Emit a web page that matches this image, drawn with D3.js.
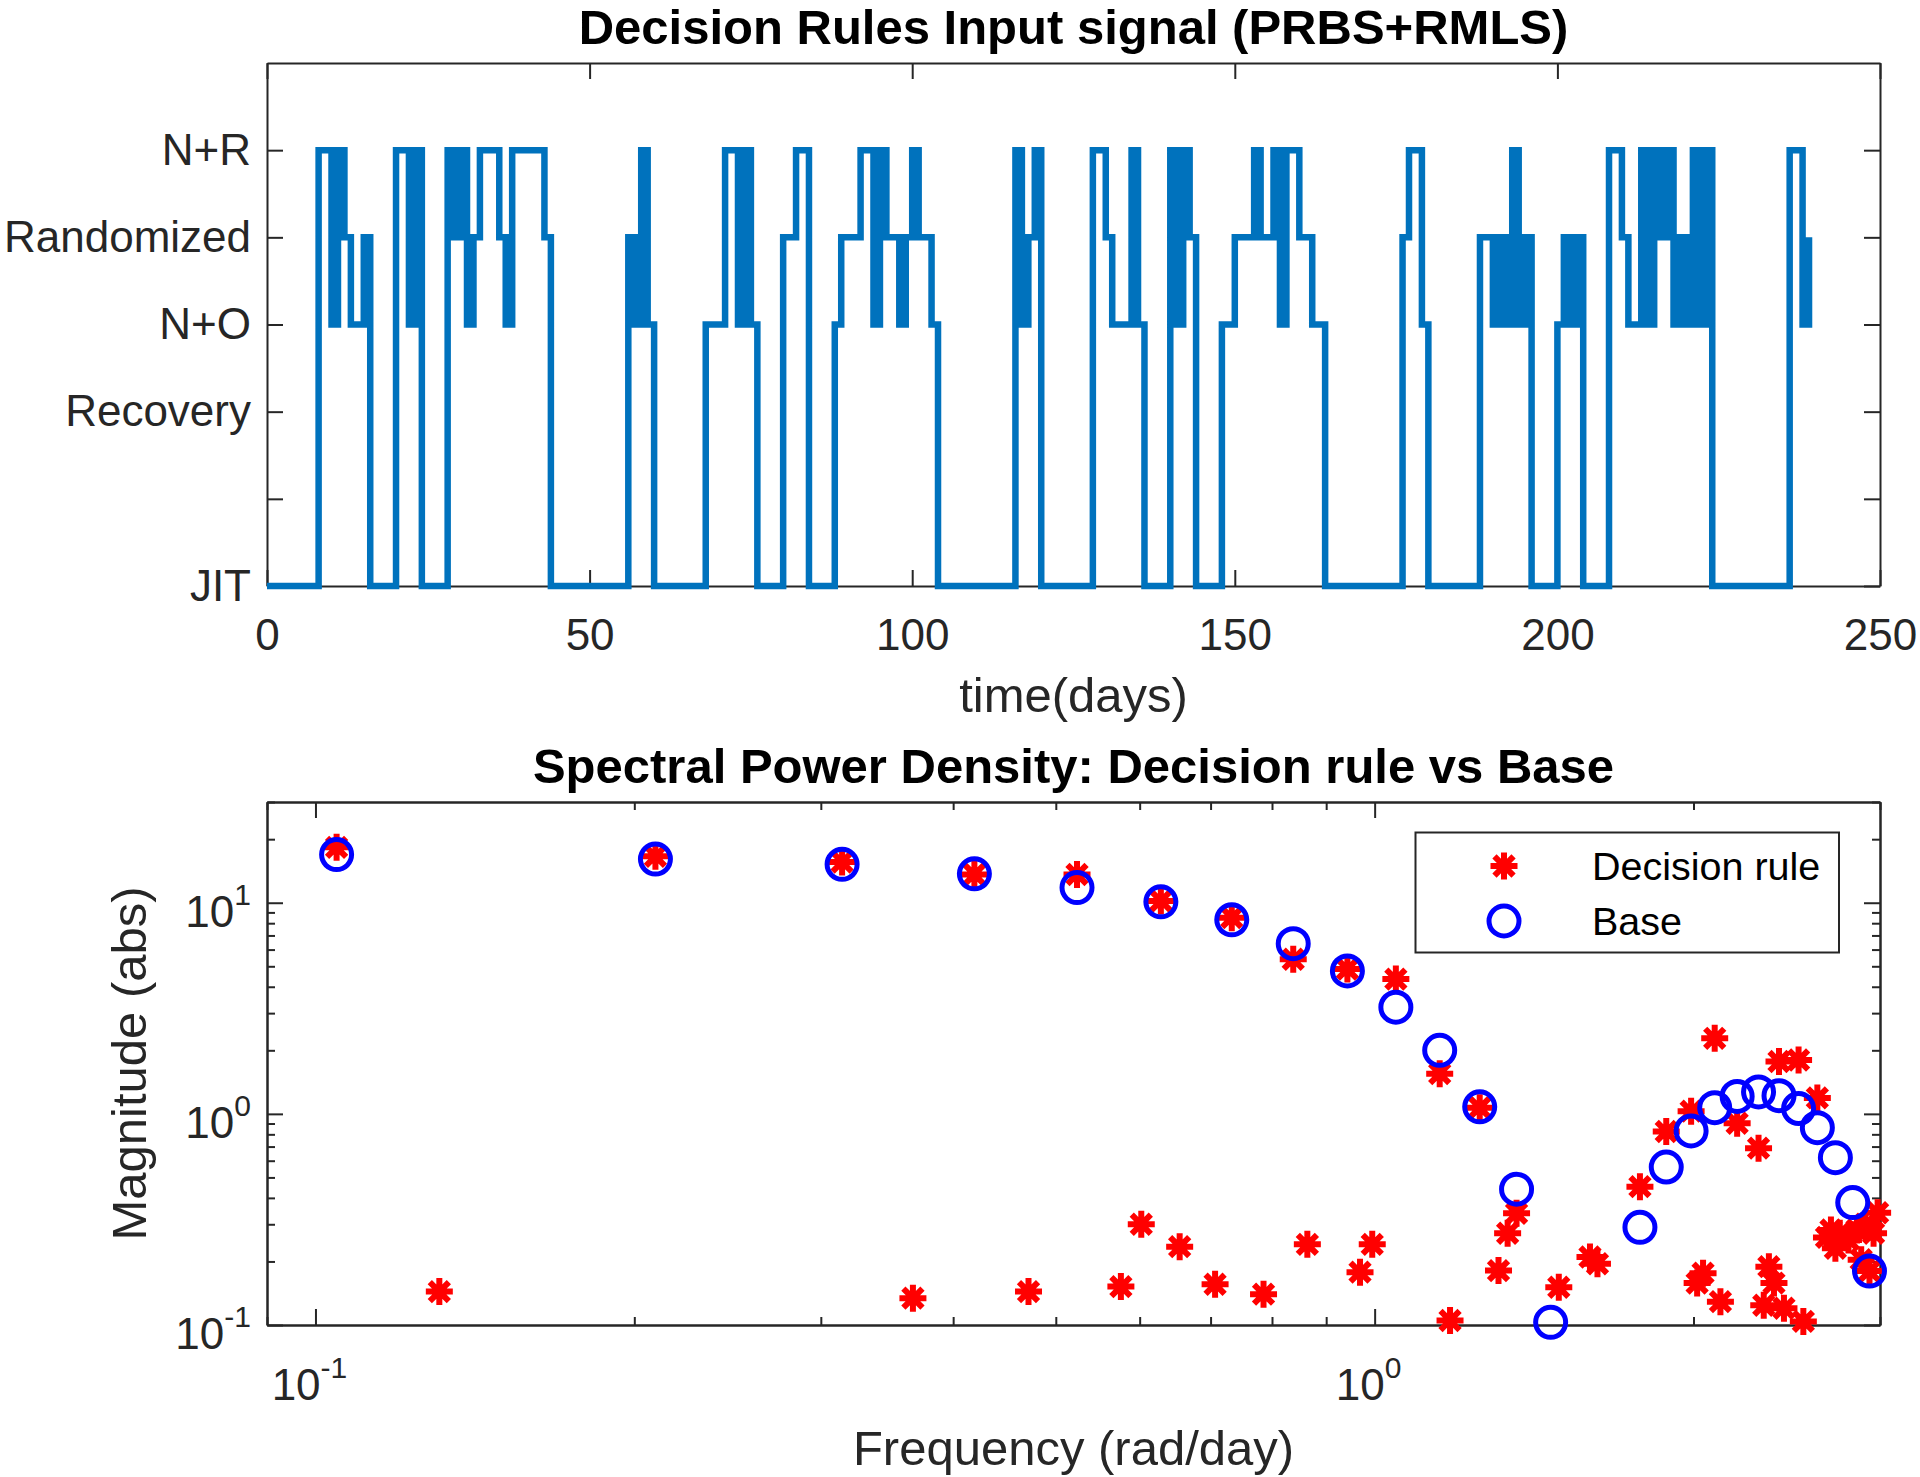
<!DOCTYPE html>
<html>
<head>
<meta charset="utf-8">
<script src="https://cdn.jsdelivr.net/npm/d3@7"></script>
<style>
  body { margin: 0; background: #fff; }
  svg { display: block; }
</style>
</head>
<body>
<svg id="chart"></svg>
<script>
const width = 1920;
const height = 1477;
const FONT = '"Liberation Sans", Arial, Helvetica, sans-serif';
const AXIS = '#262626';

// ---- top panel: decision rule signal, [day, level] at every change ----
const signalSteps = [
  [0,0],[8,5],[10,3],[11,5],[12,4],[13,3],[15,4],[16,0],[20,5],[22,3],[23,5],[24,0],
  [28,5],[29,4],[30,5],[31,3],[32,4],[33,5],[36,4],[37,3],[38,5],[43,4],[44,0],
  [56,4],[57,3],[58,5],[59,3],[60,0],[68,3],[71,5],[73,3],[74,5],[75,3],[76,0],
  [80,4],[82,5],[84,0],[88,3],[89,4],[92,5],[94,3],[95,5],[96,4],[98,3],[99,4],
  [100,5],[101,4],[103,3],[104,0],[116,5],[117,3],[118,4],[119,5],[120,0],
  [128,5],[130,4],[131,3],[134,5],[135,3],[136,0],[140,5],[141,3],[142,5],[143,4],[144,0],
  [148,3],[150,4],[153,5],[154,4],[156,5],[157,3],[158,5],[160,4],[162,3],[164,0],
  [176,4],[177,5],[179,3],[180,0],[188,4],[190,3],[191,4],[192,3],[193,5],[194,3],[195,4],[196,0],
  [200,3],[201,4],[202,3],[203,4],[204,0],[208,5],[210,4],[211,3],[213,5],[214,3],[215,5],
  [216,4],[217,5],[218,3],[219,4],[220,3],[221,5],[222,3],[223,5],[224,0],[236,5],[238,3],[239,4]
];
const levelLabels = ['JIT', '', 'Recovery', 'N+O', 'Randomized', 'N+R'];
const dayTicks = [0, 50, 100, 150, 200, 250];

// ---- bottom panel: spectra ----
const ruleFreq = [0.1047,0.1309,0.2094,0.3142,0.3665,0.4189,0.4712,0.5236,0.5760,0.6021,
  0.6283,0.6545,0.7069,0.7330,0.7854,0.8378,0.8639,0.9425,0.9687,0.9948,1.0472,1.1519,
  1.1781,1.2566,1.3090,1.3352,1.3614,1.4923,1.5970,1.6232,1.7802,1.8850,1.9897,2.0159,
  2.0420,2.0944,2.1206,2.1991,2.3038,2.3300,2.3562,2.3824,2.4086,2.4347,2.5133,2.5395,
  2.6180,2.6704,2.6965,2.7227,2.7489,2.8013,2.8536,2.8798,2.9060,2.9322,2.9583,2.9845];
const ruleMag = [18.3,0.144,16.6,15.6,0.134,13.6,0.144,13.6,0.152,0.30,
  10.2,0.235,0.156,8.5,0.140,5.4,0.241,4.85,0.178,0.241,4.35,1.55,
  0.105,1.07,0.181,0.272,0.338,0.151,0.21,0.195,0.452,0.825,1.03,0.158,
  0.176,2.28,0.129,0.903,0.688,0.124,0.189,0.158,1.77,0.12,1.80,0.104,
  1.19,0.26,0.282,0.231,0.272,0.253,0.282,0.204,0.30,0.18,0.272,0.34];
const baseFreq = [0.1047,0.2094,0.3142,0.4189,0.5236,0.6283,0.7330,0.8378,0.9425,1.0472,
  1.1519,1.2566,1.3614,1.4661,1.7802,1.8850,1.9897,2.0944,2.1991,2.3038,2.4086,2.5133,
  2.6180,2.7227,2.8274,2.9322];
const baseMag = [16.9,16.1,15.2,13.7,11.8,10.1,8.3,6.4,4.75,3.2,
  2.0,1.08,0.44,0.103,0.29,0.56,0.83,1.07,1.21,1.27,1.22,1.06,
  0.86,0.62,0.38,0.18];
const freqMajor = [0.1, 1];
const freqMinor = [0.09,0.2,0.3,0.4,0.5,0.6,0.7,0.8,0.9,2,3];
const magMajor = [0.1, 1, 10];
const magMinor = [0.2,0.3,0.4,0.5,0.6,0.7,0.8,0.9,2,3,4,5,6,7,8,9,20,30];

const svg = d3.select('#chart')
  .attr('width', width)
  .attr('height', height)
  .style('font-family', FONT);

svg.append('rect').attr('width', width).attr('height', height).attr('fill', '#fff');

function styleAxis(g) {
  g.attr('font-family', FONT).attr('font-size', 44);
  g.selectAll('path.domain').attr('stroke', AXIS).attr('stroke-width', 2);
  g.selectAll('.tick line').attr('stroke', AXIS).attr('stroke-width', 2);
  g.selectAll('.tick text').attr('fill', AXIS);
}

// ================= top panel =================
let xTop = d3.scaleLinear().domain([0, 250]).range([267, 1880]);
let yTop = d3.scaleLinear().domain([0, 6]).range([586, 63]);

svg.append('g')
  .attr('transform', `translate(0,${yTop(0)})`)
  .call(d3.axisBottom(xTop).tickValues(dayTicks).tickSize(-16).tickSizeOuter(0).tickPadding(33))
  .call(styleAxis);
svg.append('g')
  .attr('transform', `translate(0,${yTop(6)})`)
  .call(d3.axisTop(xTop).tickValues(dayTicks).tickSize(-16).tickSizeOuter(0).tickFormat(''))
  .call(styleAxis);
svg.append('g')
  .attr('transform', `translate(${xTop(0)},0)`)
  .call(d3.axisLeft(yTop).tickValues(d3.range(levelLabels.length)).tickSize(-16).tickSizeOuter(0)
    .tickPadding(16).tickFormat(i => levelLabels[i]))
  .call(styleAxis);
svg.append('g')
  .attr('transform', `translate(${xTop(250)},0)`)
  .call(d3.axisRight(yTop).tickValues(d3.range(levelLabels.length)).tickSize(-16).tickSizeOuter(0).tickFormat(''))
  .call(styleAxis);

let signalLine = d3.line()
  .x(d => xTop(d[0]))
  .y(d => yTop(d[1]))
  .curve(d3.curveStepAfter);

svg.append('path')
  .datum(signalSteps)
  .attr('d', signalLine)
  .attr('fill', 'none')
  .attr('stroke', '#0072BD')
  .attr('stroke-width', 6.5)
  .attr('stroke-linejoin', 'miter')
  .attr('stroke-linecap', 'butt');

svg.append('text')
  .attr('x', (xTop(0) + xTop(250)) / 2)
  .attr('y', 44)
  .attr('text-anchor', 'middle')
  .attr('font-size', 49)
  .attr('font-weight', 'bold')
  .attr('fill', '#000')
  .text('Decision Rules Input signal (PRBS+RMLS)');

svg.append('text')
  .attr('x', (xTop(0) + xTop(250)) / 2)
  .attr('y', 712)
  .attr('text-anchor', 'middle')
  .attr('font-size', 49)
  .attr('fill', AXIS)
  .text('time(days)');

// ================= bottom panel =================
let xBot = d3.scaleLog().domain([0.09, 3.0]).range([267, 1880]);
let yBot = d3.scaleLog().domain([0.1, 30]).range([1325, 802]);

function logTicks(axisFn, scale, values, size) {
  return axisFn(scale).tickValues(values).tickSize(-size).tickSizeOuter(0).tickFormat('');
}

[[freqMajor, 16], [freqMinor, 8]].forEach(([vals, len]) => {
  svg.append('g').attr('transform', `translate(0,${yBot.range()[0]})`)
    .call(logTicks(d3.axisBottom, xBot, vals, len)).call(styleAxis);
  svg.append('g').attr('transform', `translate(0,${yBot.range()[1]})`)
    .call(logTicks(d3.axisTop, xBot, vals, len)).call(styleAxis);
});
[[magMajor, 16], [magMinor, 8]].forEach(([vals, len]) => {
  svg.append('g').attr('transform', `translate(${xBot.range()[0]},0)`)
    .call(logTicks(d3.axisLeft, yBot, vals, len)).call(styleAxis);
  svg.append('g').attr('transform', `translate(${xBot.range()[1]},0)`)
    .call(logTicks(d3.axisRight, yBot, vals, len)).call(styleAxis);
});

function powerLabel(sel, v) {
  let e = Math.round(Math.log10(v));
  sel.append('tspan').text('10');
  sel.append('tspan').attr('font-size', 30).attr('dy', -22).text(e);
}

svg.append('g').selectAll('text')
  .data(freqMajor)
  .join('text')
    .attr('x', d => xBot(d) - 6)
    .attr('y', 1400)
    .attr('text-anchor', 'middle')
    .attr('font-size', 44)
    .attr('fill', AXIS)
    .each(function(d) { powerLabel(d3.select(this), d); });

svg.append('g').selectAll('text')
  .data(magMajor)
  .join('text')
    .attr('x', xBot.range()[0] - 16)
    .attr('y', d => yBot(d) + 24)
    .attr('text-anchor', 'end')
    .attr('font-size', 44)
    .attr('fill', AXIS)
    .each(function(d) { powerLabel(d3.select(this), d); });

// decision rule stars then base circles
const starPath = (() => {
  let r = 13.5, a = r * Math.SQRT1_2;
  return `M${-r},0L${r},0M0,${-r}L0,${r}M${-a},${-a}L${a},${a}M${-a},${a}L${a},${-a}`;
})();

let ruleData = ruleFreq.map((f, i) => [f, ruleMag[i]]);
let baseData = baseFreq.map((f, i) => [f, baseMag[i]]);

svg.append('g')
  .selectAll('path')
  .data(ruleData)
  .join('path')
    .attr('transform', d => `translate(${xBot(d[0])},${yBot(d[1])})`)
    .attr('d', starPath)
    .attr('fill', 'none')
    .attr('stroke', '#ff0000')
    .attr('stroke-width', 6);

svg.append('g')
  .selectAll('circle')
  .data(baseData)
  .join('circle')
    .attr('cx', d => xBot(d[0]))
    .attr('cy', d => yBot(d[1]))
    .attr('r', 15)
    .attr('fill', 'none')
    .attr('stroke', '#0000ff')
    .attr('stroke-width', 5);

// legend
let legend = svg.append('g');
legend.append('rect')
  .attr('x', 1415.5).attr('y', 832.5)
  .attr('width', 423.5).attr('height', 120)
  .attr('fill', '#fff')
  .attr('stroke', AXIS)
  .attr('stroke-width', 2);
legend.append('path')
  .attr('transform', 'translate(1504,866)')
  .attr('d', starPath)
  .attr('fill', 'none')
  .attr('stroke', '#ff0000')
  .attr('stroke-width', 6);
legend.append('circle')
  .attr('cx', 1504).attr('cy', 921).attr('r', 15)
  .attr('fill', 'none').attr('stroke', '#0000ff').attr('stroke-width', 5);
legend.append('text')
  .attr('x', 1592).attr('y', 880)
  .attr('font-size', 39.5).attr('fill', '#000')
  .text('Decision rule');
legend.append('text')
  .attr('x', 1592).attr('y', 935)
  .attr('font-size', 39.5).attr('fill', '#000')
  .text('Base');

svg.append('text')
  .attr('x', (xBot.range()[0] + xBot.range()[1]) / 2)
  .attr('y', 783)
  .attr('text-anchor', 'middle')
  .attr('font-size', 49)
  .attr('font-weight', 'bold')
  .attr('fill', '#000')
  .text('Spectral Power Density: Decision rule vs Base');

svg.append('text')
  .attr('x', (xBot.range()[0] + xBot.range()[1]) / 2)
  .attr('y', 1465)
  .attr('text-anchor', 'middle')
  .attr('font-size', 49)
  .attr('fill', AXIS)
  .text('Frequency (rad/day)');

svg.append('text')
  .attr('transform', `translate(146,${(yBot.range()[0] + yBot.range()[1]) / 2}) rotate(-90)`)
  .attr('text-anchor', 'middle')
  .attr('font-size', 49)
  .attr('fill', AXIS)
  .text('Magnitude (abs)');
</script>
</body>
</html>
